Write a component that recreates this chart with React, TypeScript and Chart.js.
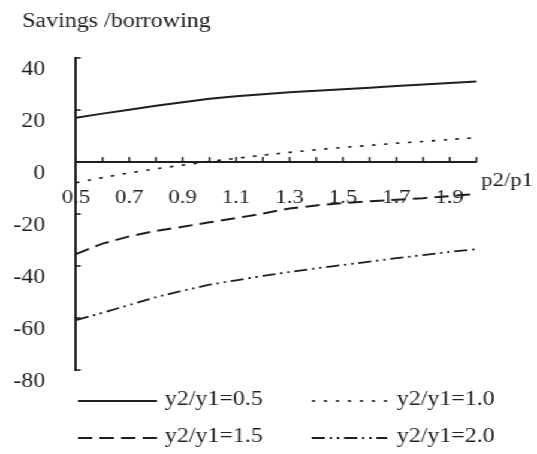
import React, { useEffect, useRef } from "react";
import { Chart, registerables } from "chart.js";

Chart.register(...registerables);

const categories = ["0.5", "0.6", "0.7", "0.8", "0.9", "1.0", "1.1", "1.2", "1.3", "1.4", "1.5", "1.6", "1.7", "1.8", "1.9", "2.0"];
const xTickLabels = ["0.5", "0.7", "0.9", "1.1", "1.3", "1.5", "1.7", "1.9"];
const yTickLabels = ["40", "20", "0", "-20", "-40", "-60", "-80"];
const ratio05 = [17, 18.6, 20.1, 21.6, 23, 24.3, 25.3, 26.1, 26.8, 27.4, 28, 28.6, 29.2, 29.8, 30.4, 31];
const ratio10 = [-8, -6, -4.2, -2.6, -1.2, 0.2, 1.4, 2.6, 3.7, 4.7, 5.6, 6.4, 7.2, 7.9, 8.6, 9.4];
const ratio15 = [-35.4, -31.4, -28.6, -26.5, -24.9, -23.2, -21.6, -19.8, -17.9, -16.7, -15.8, -15.1, -14.5, -13.9, -13.1, -12.3];
const ratio20 = [-60.8, -58, -55, -52, -49.5, -47.2, -45.5, -43.8, -42.3, -40.9, -39.6, -38.3, -37, -35.8, -34.6, -33.5];
const seriesNames = ["y2/y1=0.5", "y2/y1=1.0", "y2/y1=1.5", "y2/y1=2.0"];
const yTitle = "Savings /borrowing";
const xTitle = "p2/p1";

const INK = "#1e1e1e";
const FONT = '"Liberation Serif", "Times New Roman", serif';
const W = 448;
const H = 454;
const SX = 537 / W;

const dashes: number[][] = [[], [3, 7], [12, 6], [11, 4, 2, 4, 2, 4]];
const widths = [2, 1.6, 2, 1.8];

const customPlugin = {
  id: "custom",
  afterDraw(chart: any) {
    const ctx = chart.ctx;
    const xs = chart.scales.x;
    const ys = chart.scales.y;
    const area = chart.chartArea;
    const y0 = ys.getPixelForValue(0);
    ctx.save();
    ctx.strokeStyle = INK;
    ctx.fillStyle = INK;
    ctx.lineWidth = 1.5;
    ctx.setLineDash([]);
    ctx.textBaseline = "middle";
    // y tick marks pointing right, labels on the left (offset below the tick)
    ctx.font = `20px ${FONT}`;
    ctx.textAlign = "right";
    ys.ticks.forEach((t: any) => {
      const py = ys.getPixelForValue(t.value);
      ctx.beginPath();
      ctx.moveTo(area.left, py);
      ctx.lineTo(area.left + 4, py);
      ctx.stroke();
      const lab = yTickLabels.find((l) => Number(l) === Number(t.value));
      if (lab !== undefined) ctx.fillText(lab, area.left - 25.5, py + 12);
    });
    // x tick marks pointing up
    categories.forEach((_, i) => {
      const px = xs.getPixelForValue(i);
      ctx.beginPath();
      ctx.moveTo(px, y0);
      ctx.lineTo(px, y0 - 5);
      ctx.stroke();
    });
    ctx.textAlign = "left";
    // chart title
    ctx.font = `20px ${FONT}`;
    ctx.fillText(yTitle, 18.5, 22);
    // x axis title
    ctx.font = `19px ${FONT}`;
    ctx.fillText(xTitle, area.right + 4, y0 + 19);
    // legend
    const cols = [65, 260];
    const sampleLen = [66, 63];
    const textX = [137.5, 331];
    const rows = [401, 438];
    ctx.font = `20px ${FONT}`;
    seriesNames.forEach((name, i) => {
      const c = i % 2;
      const r = Math.floor(i / 2);
      const ds = chart.data.datasets[i];
      ctx.save();
      ctx.strokeStyle = ds.borderColor;
      ctx.lineWidth = ds.borderWidth;
      ctx.setLineDash(ds.borderDash || []);
      ctx.beginPath();
      ctx.moveTo(cols[c], rows[r]);
      ctx.lineTo(cols[c] + sampleLen[c], rows[r]);
      ctx.stroke();
      ctx.restore();
      ctx.fillText(name, textX[c], rows[r] - 1);
    });
    ctx.restore();
  },
};

export default function App() {
  const ref = useRef<HTMLCanvasElement>(null);
  useEffect(() => {
    if (!ref.current) return;
    const data = [ratio05, ratio10, ratio15, ratio20];
    const chart = new Chart(ref.current, {
      type: "line",
      data: {
        labels: categories,
        datasets: data.map((d, i) => ({
          label: seriesNames[i],
          data: d,
          borderColor: INK,
          borderWidth: widths[i],
          borderDash: dashes[i],
          pointRadius: 0,
          fill: false,
          tension: 0,
        })),
      },
      options: {
        responsive: false,
        animation: false,
        devicePixelRatio: 1,
        layout: { padding: { left: 18, right: 50.5, top: 58, bottom: 84 } },
        plugins: {
          legend: { display: false },
          tooltip: { enabled: false },
          title: { display: false },
        },
        scales: {
          x: {
            type: "category",
            position: { y: 0 } as any,
            offset: false,
            grid: { display: false, drawTicks: false },
            border: { display: true, color: INK, width: 2 },
            ticks: {
              autoSkip: false,
              maxRotation: 0,
              minRotation: 0,
              padding: 25,
              color: INK,
              font: { family: FONT, size: 19 },
              callback: function (this: any, v: any) {
                const l = this.getLabelForValue(v);
                return xTickLabels.includes(l) ? l : "";
              },
            },
          },
          y: {
            min: -80,
            max: 40,
            grid: { display: false, drawTicks: false },
            border: { display: true, color: INK, width: 2 },
            afterFit: (s: any) => {
              s.width = 45.3;
            },
            ticks: {
              display: false,
              stepSize: 20,
            },
          },
        },
      },
      plugins: [customPlugin],
    });
    return () => chart.destroy();
  }, []);
  return (
    <div
      style={{
        position: "absolute",
        left: 0,
        top: 0,
        width: W,
        height: H,
        transform: `scaleX(${SX})`,
        transformOrigin: "0 0",
        background: "#fff",
      }}
    >
      <canvas ref={ref} width={W} height={H} />
    </div>
  );
}
